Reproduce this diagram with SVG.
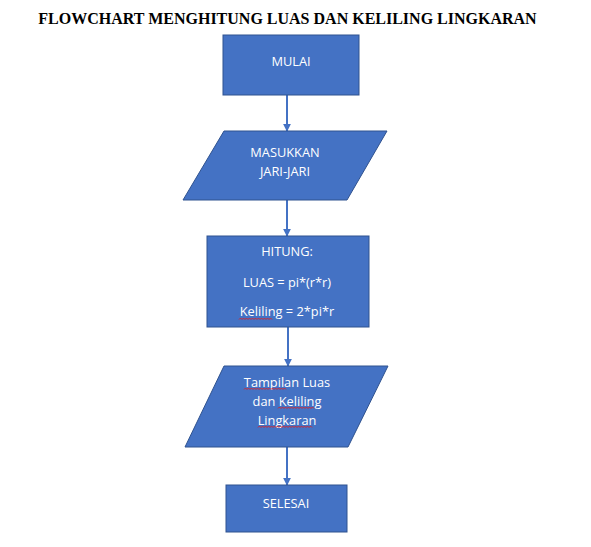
<svg xmlns="http://www.w3.org/2000/svg" width="591" height="547" viewBox="0 0 591 547">
<style>
.shape{fill:#4472C4;stroke:#2F528F;stroke-width:1}
.lbl{font-family:"Open Sans","Liberation Sans",sans-serif;font-size:12.8px;fill:#FFFFFF;text-anchor:middle}
.conn{stroke:#4472C4;stroke-width:2;fill:none;marker-end:url(#ah)}
.sq{stroke:#E02020;stroke-width:0.9;fill:none}
</style>
<defs>
<marker id="ah" viewBox="0 0 10 10" refX="9" refY="5" markerWidth="4" markerHeight="4" orient="auto" markerUnits="strokeWidth">
<path d="M0,0 L10,5 L0,10 z" fill="#4472C4"/>
</marker>
</defs>
<rect width="591" height="547" fill="#FFFFFF"/>
<text x="287.5" y="24" font-family="'Liberation Serif',serif" font-weight="bold" font-size="16" text-anchor="middle" fill="#000">FLOWCHART MENGHITUNG LUAS DAN KELILING LINGKARAN</text>
<g id="connectors">
<line class="conn" x1="287" y1="95" x2="287" y2="131"/>
<line class="conn" x1="287" y1="200" x2="287" y2="236"/>
<line class="conn" x1="288" y1="327" x2="288" y2="366"/>
<line class="conn" x1="287" y1="447" x2="287" y2="485"/>
</g>
<g id="mulai">
<rect class="shape" x="223" y="35" width="136" height="60"/>
<text class="lbl" x="291" y="66">MULAI</text>
</g>
<g id="masukkan">
<polygon class="shape" points="224,131 387,131 347,200 183,200"/>
<text class="lbl" x="285" y="157">MASUKKAN</text>
<text class="lbl" x="285" y="176">JARI-JARI</text>
</g>
<g id="hitung">
<rect class="shape" x="207" y="236" width="162" height="91"/>
<text class="lbl" x="287" y="256">HITUNG:</text>
<text class="lbl" x="287" y="287">LUAS = pi*(r*r)</text>
<text class="lbl" x="287" y="316">Keliling = 2*pi*r</text>
<path class="sq" d="M239,319.5 l1.5,-1.5 l1.5,1.5 l1.5,-1.5 l1.5,1.5 l1.5,-1.5 l1.5,1.5 l1.5,-1.5 l1.5,1.5 l1.5,-1.5 l1.5,1.5 l1.5,-1.5 l1.5,1.5 l1.5,-1.5 l1.5,1.5 l1.5,-1.5 l1.5,1.5 l1.5,-1.5 l1.5,1.5 l1.5,-1.5 l1.5,1.5 l1.5,-1.5 l1.5,1.5"/>
</g>
<g id="tampilan">
<polygon class="shape" points="224,366 388,366 348,447 185,447"/>
<text class="lbl" x="287" y="387">Tampilan Luas</text>
<text class="lbl" x="287" y="406">dan Keliling</text>
<text class="lbl" x="287" y="425">Lingkaran</text>
<path class="sq" d="M244,389.5 l1.5,-1.5 l1.5,1.5 l1.5,-1.5 l1.5,1.5 l1.5,-1.5 l1.5,1.5 l1.5,-1.5 l1.5,1.5 l1.5,-1.5 l1.5,1.5 l1.5,-1.5 l1.5,1.5 l1.5,-1.5 l1.5,1.5 l1.5,-1.5 l1.5,1.5 l1.5,-1.5 l1.5,1.5 l1.5,-1.5 l1.5,1.5 l1.5,-1.5 l1.5,1.5 l1.5,-1.5 l1.5,1.5 l1.5,-1.5 l1.5,1.5 l1.5,-1.5 l1.5,1.5"/>
<path class="sq" d="M278,408.5 l1.5,-1.5 l1.5,1.5 l1.5,-1.5 l1.5,1.5 l1.5,-1.5 l1.5,1.5 l1.5,-1.5 l1.5,1.5 l1.5,-1.5 l1.5,1.5 l1.5,-1.5 l1.5,1.5 l1.5,-1.5 l1.5,1.5 l1.5,-1.5 l1.5,1.5 l1.5,-1.5 l1.5,1.5 l1.5,-1.5 l1.5,1.5 l1.5,-1.5 l1.5,1.5 l1.5,-1.5 l1.5,1.5"/>
<path class="sq" d="M258,427.5 l1.5,-1.5 l1.5,1.5 l1.5,-1.5 l1.5,1.5 l1.5,-1.5 l1.5,1.5 l1.5,-1.5 l1.5,1.5 l1.5,-1.5 l1.5,1.5 l1.5,-1.5 l1.5,1.5 l1.5,-1.5 l1.5,1.5 l1.5,-1.5 l1.5,1.5 l1.5,-1.5 l1.5,1.5 l1.5,-1.5 l1.5,1.5 l1.5,-1.5 l1.5,1.5 l1.5,-1.5 l1.5,1.5 l1.5,-1.5 l1.5,1.5 l1.5,-1.5 l1.5,1.5 l1.5,-1.5 l1.5,1.5 l1.5,-1.5 l1.5,1.5 l1.5,-1.5 l1.5,1.5 l1.5,-1.5 l1.5,1.5"/>
</g>
<g id="selesai">
<rect class="shape" x="226" y="485" width="121" height="47"/>
<text class="lbl" x="286" y="508">SELESAI</text>
</g>
</svg>
